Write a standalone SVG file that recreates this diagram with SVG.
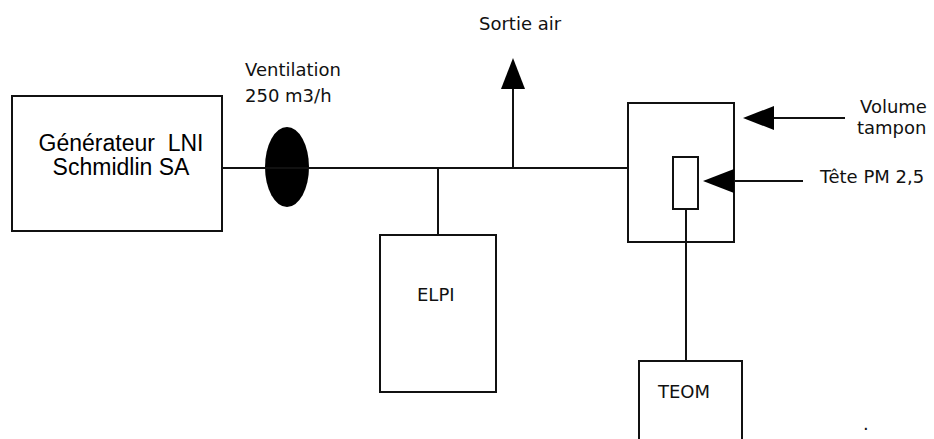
<svg xmlns="http://www.w3.org/2000/svg" width="934" height="439" viewBox="0 0 934 439">
<defs>
<style>
.box{fill:#fff;stroke:#111;stroke-width:2}
.ln{fill:none;stroke:#111;stroke-width:2}
.lbl{font-family:"DejaVu Sans",sans-serif;font-size:18px;fill:#111}
.big{font-family:"Liberation Sans",Arial,sans-serif;font-size:23px;fill:#000;text-anchor:middle;white-space:pre}
</style>
<marker id="ah" markerUnits="userSpaceOnUse" markerWidth="32" markerHeight="26" refX="0" refY="12" orient="auto" viewBox="0 0 32 26">
<path d="M0,0 L31,12 L0,24 z" fill="#000"/>
</marker>
</defs>
<rect width="934" height="439" fill="#fff"/>
<g id="generateur">
<rect class="box" x="12" y="96" width="210" height="135"/>
<text class="big" x="121" y="151" xml:space="preserve">Générateur  LNI</text>
<text class="big" x="121" y="175">Schmidlin SA</text>
</g>
<g id="ventilation">
<ellipse cx="287" cy="167" rx="22" ry="40" fill="#000"/>
<text class="lbl" x="245" y="76">Ventilation</text>
<text class="lbl" x="245" y="102">250 m3/h</text>
</g>
<g id="sortie-air">
<text class="lbl" x="479" y="30">Sortie air</text>
</g>
<g id="elpi">
<rect class="box" x="380" y="235" width="116" height="157"/>
<text class="lbl" x="417" y="301">ELPI</text>
</g>
<g id="volume-tampon">
<rect class="box" x="628" y="103" width="106" height="139"/>
<text class="lbl" x="860" y="113">Volume</text>
<text class="lbl" x="857" y="134">tampon</text>
</g>
<g id="tete-pm">
<rect class="box" x="673" y="157" width="25" height="52"/>
<text class="lbl" x="820" y="183">Tête PM 2,5</text>
</g>
<g id="teom">
<rect class="box" x="639" y="361" width="103" height="90"/>
<text class="lbl" x="658" y="398">TEOM</text>
</g>
<g id="connectors">
<line class="ln" x1="222" y1="168" x2="628" y2="168"/>
<line class="ln" x1="513" y1="168" x2="513" y2="89" marker-end="url(#ah)"/>
<line class="ln" x1="438" y1="168" x2="438" y2="235"/>
<line class="ln" x1="686" y1="209" x2="686" y2="361"/>
<line class="ln" x1="845" y1="118" x2="774" y2="118" marker-end="url(#ah)"/>
<line class="ln" x1="803" y1="181" x2="734" y2="181" marker-end="url(#ah)"/>
</g>
<text class="lbl" x="863" y="430" font-size="10">.</text>
</svg>
